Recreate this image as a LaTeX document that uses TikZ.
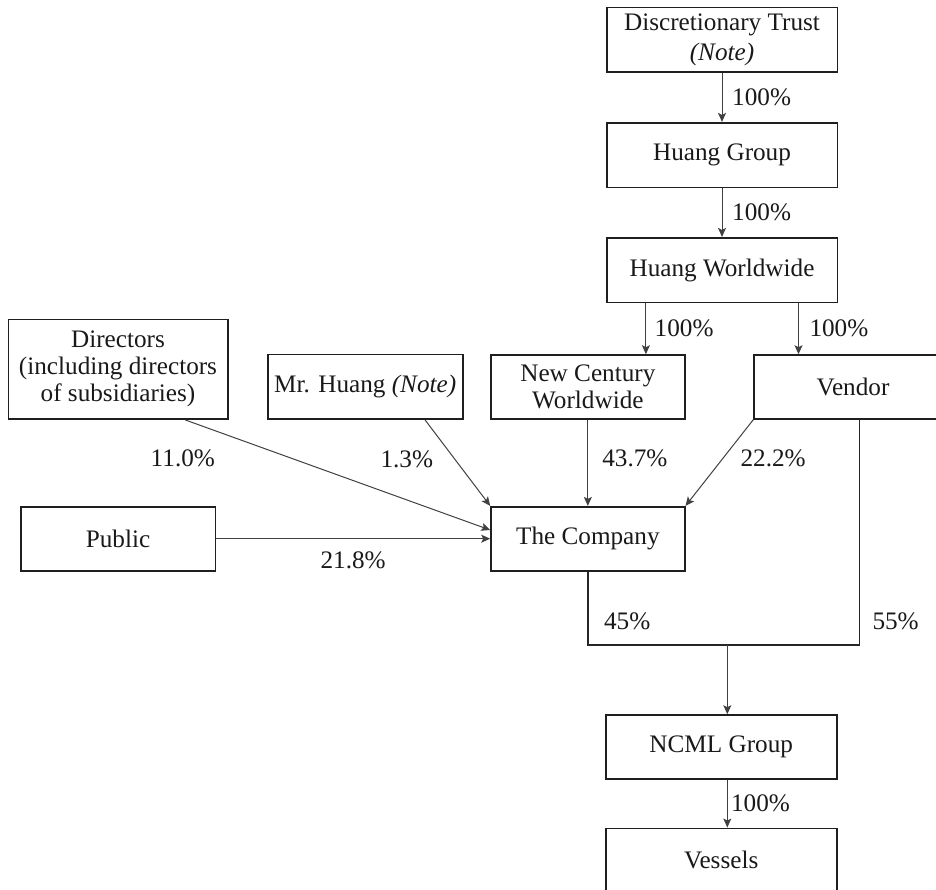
\documentclass[tikz,border=0pt]{standalone}
\usepackage{fontspec}
\setmainfont{Liberation Serif}
\usetikzlibrary{arrows.meta}
\begin{document}
\begin{tikzpicture}[x=1pt,y=-1pt,
  box/.style={draw=black!88, line width=1.6pt, inner sep=0pt, align=center,
    text=black!90, font=\fontsize{25.2}{27}\selectfont},
  arr/.style={draw=black!75, line width=1pt, -{Stealth[length=9pt,width=8pt,inset=2pt]}},
  junc/.style={draw=black!85, line width=1.6pt},
  lbl/.style={font=\fontsize{25.2}{27}\selectfont, inner sep=0pt, text=black!90}]
\useasboundingbox (0,0) rectangle (936,889);
% boxes
\node[box, minimum width=230.6pt, minimum height=64.4pt] (dt) at (722,39.5) {Discretionary Trust\\[3pt]\textit{(Note)}};
\node[box, minimum width=230.6pt, minimum height=64.6pt] (hg) at (722,155) {Huang Group};
\node[box, minimum width=230.6pt, minimum height=64.6pt] (hw) at (722,270) {Huang Worldwide};
\node[box, minimum width=193.7pt, minimum height=64pt] (ncw) at (587.85,387) {New Century\\Worldwide};
\node[box, minimum width=198pt, minimum height=64pt] (ven) at (853,387) {Vendor};
\node[box, minimum width=219.4pt, minimum height=99.7pt] (dir) at (118,369.2) {Directors\\(including directors\\of subsidiaries)};
\node[box, minimum width=195pt, minimum height=64.7pt] (mrh) at (365.2,386.7) {Mr. Huang \textit{(Note)}};
\node[box, minimum width=194.6pt, minimum height=64pt] (pub) at (118,538.7) {Public};
\node[box, minimum width=193.7pt, minimum height=64pt] (co) at (587.85,538.7) {The Company};
\node[box, minimum width=231pt, minimum height=64pt] (ncml) at (721.2,747) {NCML Group};
\node[box, minimum width=231pt, minimum height=64pt] (ves) at (721.2,860.3) {Vessels};
% coordinates
\coordinate (a1) at ([xshift=40pt]hw.south west);
\coordinate (a2) at ([xshift=-39.6pt]hw.south east);
\coordinate (jy) at (0,645);
\coordinate (vb) at ([xshift=6.3pt]ven.south);
\coordinate (jm) at (727.3,645);
% connectors
\draw[arr] (dt) -- node[lbl, anchor=west, xshift=9.7pt]{100\%} (hg);
\draw[arr] (hg) -- node[lbl, anchor=west, xshift=9.7pt]{100\%} (hw);
\draw[arr] (a1) -- node[lbl, anchor=west, xshift=8.3pt]{100\%} (a1 |- ncw.north);
\draw[arr] (a2) -- node[lbl, anchor=west, xshift=10.5pt]{100\%} (a2 |- ven.north);
\draw[arr] (ncw) -- node[lbl, anchor=west, pos=0.45, xshift=14pt]{43.7\%} (co);
\draw[arr] (ven.south west) -- node[lbl, anchor=west, pos=0.445, xshift=17pt]{22.2\%} (co.north east);
\draw[arr] ([xshift=67pt]dir.south) -- node[lbl, pos=0.35, xshift=-109pt]{11.0\%} ([yshift=8.7pt]co.west);
\draw[arr] ([xshift=59.8pt]mrh.south) -- node[lbl, pos=0.457, xshift=-48pt]{1.3\%} (co.north west);
\draw[arr] (pub) -- node[lbl, yshift=-21.4pt]{21.8\%} (co);
\draw[junc] (co.south) -- node[lbl, anchor=west, pos=0.68, xshift=15.4pt]{45\%} (co.south |- jy)
  -- (vb |- jy) -- node[lbl, anchor=west, pos=0.104, xshift=12.4pt]{55\%} (vb);
\draw[arr] (jm) -- (jm |- ncml.north);
\draw[arr] (jm |- ncml.south) -- node[lbl, anchor=west, xshift=3.3pt]{100\%} (jm |- ves.north);
\end{tikzpicture}
\end{document}
